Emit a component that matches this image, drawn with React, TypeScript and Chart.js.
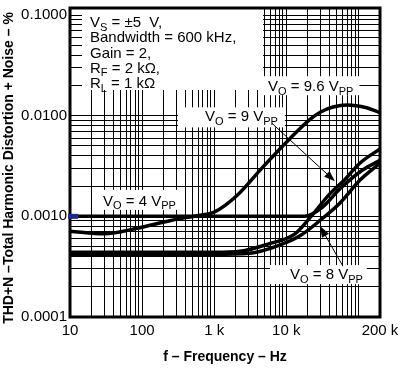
import React, { useEffect, useRef } from "react";
import { Chart, registerables } from "chart.js";

Chart.register(...registerables);

const FONT = '"Liberation Sans", Arial, Helvetica, sans-serif';

// ---- Data (frequency in Hz, THD+N in %) ----
const freqVo96 = [10, 30, 85, 250, 600, 1000, 2075, 4760, 11300, 21400, 30000, 44600, 70000, 130000, 200000];
const thdVo96 = [0.00071, 0.00067, 0.00076, 0.00091, 0.00102, 0.0011, 0.00161, 0.0031, 0.00594, 0.00917, 0.0109, 0.0122, 0.0128, 0.012, 0.0107];

const freqVo4 = [10, 100, 1000, 10000, 18000, 31300, 55700, 116000, 200000];
const thdVo4 = [0.001, 0.001, 0.001, 0.001, 0.001, 0.00122, 0.00188, 0.0029, 0.0036];

const freqVo9 = [10, 100, 1000, 2300, 5600, 13200, 22100, 40500, 65300, 105000, 200000];
const thdVo9 = [0.00044, 0.00044, 0.00044, 0.00045, 0.00053, 0.00067, 0.001, 0.00168, 0.00233, 0.00337, 0.00468];

const freqVo8 = [10, 100, 1000, 3100, 8200, 15500, 29400, 55700, 105000, 200000];
const thdVo8 = [0.00042, 0.00042, 0.00042, 0.00043, 0.00052, 0.00064, 0.00091, 0.00136, 0.00228, 0.00337];

// ---- Axes ----
const xMin = 10;
const xMax = 200000;
const yMin = 0.0001;
const yMax = 0.1174;
const xTickValues = [10, 100, 1000, 10000, 200000];
const xTickLabels = ["10", "100", "1 k", "10 k", "200 k"];
const yTickValues = [0.0001, 0.001, 0.01, 0.1];
const yTickLabels = ["0.0001", "0.0010", "0.0100", "0.1000"];
const xTitle = "f \u2013 Frequency \u2013 Hz";
const yTitle = "THD+N \u2013Total Harmonic Distortion + Noise \u2013 %";

// ---- Annotations (anchors in data space) ----
type Seg = [string, boolean];
const curveLabels: { segs: Seg[]; at: [number, number]; box: [number, number, number, number] }[] = [
  { segs: [["V", false], ["O", true], [" = 9.6 V", false], ["PP", true]], at: [5590, 0.0175], box: [6, 6, 15, 4] },
  { segs: [["V", false], ["O", true], [" = 9 V", false], ["PP", true]], at: [746, 0.00878], box: [27, 7, 14, 6] },
  { segs: [["V", false], ["O", true], [" = 4 V", false], ["PP", true]], at: [28.7, 0.00127], box: [8, 6, 16, 4] },
  { segs: [["V", false], ["O", true], [" = 8 V", false], ["PP", true]], at: [11270, 0.000238], box: [20, 4, 14, 5] },
];
const arrows: { from: [number, number]; to: [number, number] }[] = [
  { from: [6340, 0.0084], to: [47400, 0.00223] },
  { from: [61200, 0.00032], to: [29400, 0.0008] },
];
const conditionLines: Seg[][] = [
  [["V", false], ["S", true], [" = \u00b15  V,", false]],
  [["Bandwidth = 600 kHz,", false]],
  [["Gain = 2,", false]],
  [["R", false], ["F", true], [" = 2 k\u03a9,", false]],
  [["R", false], ["L", true], [" = 1 k\u03a9", false]],
];

function makeGrid(min: number, max: number): number[] {
  const out: number[] = [];
  let dec = Math.pow(10, Math.floor(Math.log10(min) + 1e-9));
  while (dec <= max * 1.0001) {
    for (let m = 1; m <= 9; m++) {
      const v = m * dec;
      if (v >= min * 0.9999 && v <= max * 1.0001) out.push(v);
    }
    dec *= 10;
  }
  return out;
}

function labelFor(v: number, values: number[], labels: string[]): string {
  for (let i = 0; i < values.length; i++) {
    if (Math.abs(v - values[i]) / values[i] < 1e-6) return labels[i];
  }
  return "";
}

function richWidth(ctx: CanvasRenderingContext2D, segs: Seg[], size: number, subSize: number) {
  let w = 0;
  for (const [t, sub] of segs) {
    ctx.font = `${sub ? subSize : size}px ${FONT}`;
    w += ctx.measureText(t).width;
  }
  return w;
}

function drawRich(ctx: CanvasRenderingContext2D, segs: Seg[], x: number, y: number, size: number, subSize: number) {
  let cx = x;
  ctx.textAlign = "left";
  ctx.textBaseline = "alphabetic";
  for (const [t, sub] of segs) {
    ctx.font = `${sub ? subSize : size}px ${FONT}`;
    ctx.fillText(t, cx, sub ? y + 3.5 : y);
    cx += ctx.measureText(t).width;
  }
}

const decorPlugin = {
  id: "decor",
  beforeDatasetsDraw(chart: any) {
    const { ctx, chartArea, scales } = chart;
    const xs = scales.x;
    const ys = scales.y;
    ctx.save();
    ctx.fillStyle = "#fff";
    ctx.fillRect(chartArea.left + 12, chartArea.top, 181, 82);
    for (const l of curveLabels) {
      const x = xs.getPixelForValue(l.at[0]);
      const y = ys.getPixelForValue(l.at[1]);
      const w = richWidth(ctx, l.segs, 15, 11);
      ctx.fillRect(x - l.box[0], y - l.box[2], w + l.box[0] + l.box[1], l.box[2] + l.box[3]);
    }
    ctx.restore();
  },
  afterDatasetsDraw(chart: any) {
    const { ctx, chartArea, scales } = chart;
    const xs = scales.x;
    const ys = scales.y;
    ctx.save();
    ctx.fillStyle = "#000";
    ctx.strokeStyle = "#000";
    conditionLines.forEach((segs, i) => {
      drawRich(ctx, segs, chartArea.left + 20, chartArea.top + 19 + i * 15.3, 15, 11);
    });
    for (const l of curveLabels) {
      const x = xs.getPixelForValue(l.at[0]);
      const y = ys.getPixelForValue(l.at[1]);
      drawRich(ctx, l.segs, x, y, 15, 11);
    }
    for (const a of arrows) {
      const x1 = xs.getPixelForValue(a.from[0]);
      const y1 = ys.getPixelForValue(a.from[1]);
      const x2 = xs.getPixelForValue(a.to[0]);
      const y2 = ys.getPixelForValue(a.to[1]);
      const ang = Math.atan2(y2 - y1, x2 - x1);
      const L = 11;
      const W = 4;
      ctx.lineWidth = 1;
      ctx.beginPath();
      ctx.moveTo(x1, y1);
      ctx.lineTo(x2 - L * Math.cos(ang) * 0.8, y2 - L * Math.sin(ang) * 0.8);
      ctx.stroke();
      ctx.beginPath();
      ctx.moveTo(x2, y2);
      ctx.lineTo(x2 - L * Math.cos(ang) + W * Math.sin(ang), y2 - L * Math.sin(ang) - W * Math.cos(ang));
      ctx.lineTo(x2 - L * Math.cos(ang) - W * Math.sin(ang), y2 - L * Math.sin(ang) + W * Math.cos(ang));
      ctx.closePath();
      ctx.fill();
    }
    ctx.lineWidth = 3;
    ctx.strokeRect(chartArea.left, chartArea.top, chartArea.right - chartArea.left, chartArea.bottom - chartArea.top);
    const my = ys.getPixelForValue(yTickValues[1]);
    ctx.fillStyle = "#1b2a8f";
    ctx.fillRect(chartArea.left - 2, my - 2.5, 10, 5);
    ctx.fillStyle = "#000";
    ctx.font = `bold 14px ${FONT}`;
    ctx.textAlign = "center";
    ctx.textBaseline = "middle";
    ctx.fillText(xTitle, (chartArea.left + chartArea.right) / 2, 357);
    ctx.save();
    ctx.translate(9, 168);
    ctx.rotate(-Math.PI / 2);
    ctx.fillText(yTitle, 0, 0);
    ctx.restore();
    ctx.restore();
  },
};

function series(freqs: number[], vals: number[]) {
  return freqs.map((f, i) => ({ x: f, y: vals[i] }));
}

export default function App() {
  const ref = useRef<HTMLCanvasElement>(null);
  useEffect(() => {
    const canvas = ref.current!;
    const lineStyle = {
      borderColor: "#000",
      borderWidth: 3.5,
      pointRadius: 0,
      fill: false,
      cubicInterpolationMode: "monotone" as const,
    };
    const chart = new Chart(canvas, {
      type: "line",
      data: {
        datasets: [
          { label: "VO = 9.6 VPP", data: series(freqVo96, thdVo96), ...lineStyle },
          { label: "VO = 4 VPP", data: series(freqVo4, thdVo4), ...lineStyle },
          { label: "VO = 9 VPP", data: series(freqVo9, thdVo9), ...lineStyle },
          { label: "VO = 8 VPP", data: series(freqVo8, thdVo8), ...lineStyle },
        ],
      },
      options: {
        animation: false,
        responsive: false,
        devicePixelRatio: 1,
        layout: { padding: { left: 0, right: 20, top: 8, bottom: 0 } },
        plugins: { legend: { display: false }, tooltip: { enabled: false } },
        scales: {
          x: {
            type: "logarithmic",
            min: xMin,
            max: xMax,
            bounds: "data",
            afterBuildTicks: (s: any) => {
              s.ticks = makeGrid(xMin, xMax).map((v) => ({ value: v }));
            },
            afterFit: (s: any) => {
              s.height = 53;
              s.paddingLeft = 0;
              s.paddingRight = 0;
            },
            grid: { color: "#000", lineWidth: 1, drawTicks: false },
            border: { display: false },
            ticks: {
              autoSkip: false,
              maxRotation: 0,
              minRotation: 0,
              padding: 5,
              color: "#000",
              font: { family: FONT, size: 15 },
              callback: (v: any) => labelFor(Number(v), xTickValues, xTickLabels),
            },
          },
          y: {
            type: "logarithmic",
            min: yMin,
            max: yMax,
            bounds: "data",
            afterBuildTicks: (s: any) => {
              s.ticks = makeGrid(yMin, 0.1).map((v) => ({ value: v }));
            },
            afterFit: (s: any) => {
              s.width = 70;
              s.paddingTop = 0;
              s.paddingBottom = 0;
            },
            grid: { color: "#000", lineWidth: 1, drawTicks: false },
            border: { display: false },
            ticks: {
              autoSkip: false,
              padding: 3,
              color: "#000",
              font: { family: FONT, size: 15 },
              callback: (v: any) => labelFor(Number(v), yTickValues, yTickLabels),
            },
          },
        },
      },
      plugins: [decorPlugin],
    } as any);
    return () => chart.destroy();
  }, []);
  return (
    <div style={{ position: "fixed", left: 0, top: 0, width: 400, height: 370, background: "#fff" }}>
      <canvas ref={ref} width={400} height={370} style={{ width: 400, height: 370, display: "block" }} />
    </div>
  );
}
